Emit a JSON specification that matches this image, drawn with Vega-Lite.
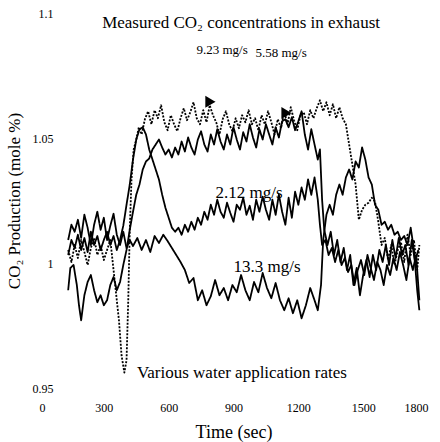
{
"$schema":"https://vega.github.io/schema/vega-lite/v6.json",
"width":389,"height":375,
"autosize":{"type":"none"},
"padding":{"left":39,"top":13,"right":12,"bottom":54},
"background":"white",
"config":{"view":{"stroke":null},"font":"Liberation Serif"},
"datasets":{
"lines":[
{"s":"13.3","t":135,"v":1.0092},{"s":"13.3","t":150,"v":1.0153},{"s":"13.3","t":165,"v":1.0125},{"s":"13.3","t":180,"v":1.0173},{"s":"13.3","t":195,"v":1.0101},{"s":"13.3","t":210,"v":1.0193},{"s":"13.3","t":225,"v":1.0141},{"s":"13.3","t":240,"v":1.0072},{"s":"13.3","t":255,"v":1.0153},{"s":"13.3","t":270,"v":1.0205},{"s":"13.3","t":285,"v":1.0133},{"s":"13.3","t":300,"v":1.0181},{"s":"13.3","t":315,"v":1.0092},{"s":"13.3","t":330,"v":1.0149},{"s":"13.3","t":345,"v":1.0197},{"s":"13.3","t":360,"v":1.0113},{"s":"13.3","t":375,"v":1.0072},{"s":"13.3","t":390,"v":1.0125},{"s":"13.3","t":405,"v":1.006},{"s":"13.3","t":420,"v":1.0092},{"s":"13.3","t":435,"v":1.0068},{"s":"13.3","t":455,"v":1.01},{"s":"13.3","t":475,"v":1.0052},{"s":"13.3","t":495,"v":1.0092},{"s":"13.3","t":515,"v":1.0044},{"s":"13.3","t":535,"v":1.0108},{"s":"13.3","t":555,"v":1.008},{"s":"13.3","t":575,"v":1.0113},{"s":"13.3","t":595,"v":1.0088},{"s":"13.3","t":615,"v":1.006},{"s":"13.3","t":635,"v":1.0032},{"s":"13.3","t":655,"v":1.0004},{"s":"13.3","t":675,"v":0.9972},{"s":"13.3","t":695,"v":0.992},{"s":"13.3","t":715,"v":0.994},{"s":"13.3","t":735,"v":0.9851},{"s":"13.3","t":755,"v":0.9891},{"s":"13.3","t":775,"v":0.9831},{"s":"13.3","t":795,"v":0.9867},{"s":"13.3","t":815,"v":0.9932},{"s":"13.3","t":835,"v":0.9871},{"s":"13.3","t":855,"v":0.99},{"s":"13.3","t":875,"v":0.9851},{"s":"13.3","t":895,"v":0.9912},{"s":"13.3","t":915,"v":0.9883},{"s":"13.3","t":935,"v":0.9952},{"s":"13.3","t":955,"v":0.9891},{"s":"13.3","t":975,"v":0.9851},{"s":"13.3","t":995,"v":0.9924},{"s":"13.3","t":1015,"v":0.9883},{"s":"13.3","t":1035,"v":0.996},{"s":"13.3","t":1055,"v":0.99},{"s":"13.3","t":1075,"v":0.9859},{"s":"13.3","t":1095,"v":0.992},{"s":"13.3","t":1115,"v":0.9851},{"s":"13.3","t":1135,"v":0.9811},{"s":"13.3","t":1155,"v":0.9859},{"s":"13.3","t":1175,"v":0.9799},{"s":"13.3","t":1195,"v":0.9851},{"s":"13.3","t":1215,"v":0.9779},{"s":"13.3","t":1235,"v":0.9831},{"s":"13.3","t":1255,"v":0.99},{"s":"13.3","t":1275,"v":0.9851},{"s":"13.3","t":1290,"v":0.9811},{"s":"13.3","t":1305,"v":0.9912},{"s":"13.3","t":1315,"v":1.0092},{"s":"13.3","t":1330,"v":1.0193},{"s":"13.3","t":1345,"v":1.0233},{"s":"13.3","t":1360,"v":1.0193},{"s":"13.3","t":1375,"v":1.0273},{"s":"13.3","t":1390,"v":1.0314},{"s":"13.3","t":1405,"v":1.0273},{"s":"13.3","t":1420,"v":1.0342},{"s":"13.3","t":1435,"v":1.0374},{"s":"13.3","t":1450,"v":1.0334},{"s":"13.3","t":1465,"v":1.0406},{"s":"13.3","t":1480,"v":1.0382},{"s":"13.3","t":1495,"v":1.0462},{"s":"13.3","t":1510,"v":1.0414},{"s":"13.3","t":1525,"v":1.0342},{"s":"13.3","t":1540,"v":1.0314},{"s":"13.3","t":1555,"v":1.0233},{"s":"13.3","t":1570,"v":1.0213},{"s":"13.3","t":1585,"v":1.0153},{"s":"13.3","t":1600,"v":1.0165},{"s":"13.3","t":1615,"v":1.0133},{"s":"13.3","t":1630,"v":1.0153},{"s":"13.3","t":1645,"v":1.0113},{"s":"13.3","t":1660,"v":1.0125},{"s":"13.3","t":1675,"v":1.0092},{"s":"13.3","t":1690,"v":1.0108},{"s":"13.3","t":1705,"v":1.0072},{"s":"13.3","t":1720,"v":1.0141},{"s":"13.3","t":1735,"v":1.0052},{"s":"13.3","t":1750,"v":0.9891},{"s":"13.3","t":1760,"v":0.9811},
{"s":"2.12","t":135,"v":1.0032},{"s":"2.12","t":150,"v":1.0092},{"s":"2.12","t":165,"v":1.006},{"s":"2.12","t":180,"v":1.0113},{"s":"2.12","t":195,"v":1.0052},{"s":"2.12","t":210,"v":1.01},{"s":"2.12","t":225,"v":1.0044},{"s":"2.12","t":240,"v":1.0125},{"s":"2.12","t":255,"v":1.0072},{"s":"2.12","t":270,"v":1.0108},{"s":"2.12","t":285,"v":1.0052},{"s":"2.12","t":300,"v":1.0092},{"s":"2.12","t":315,"v":1.0125},{"s":"2.12","t":330,"v":1.0072},{"s":"2.12","t":345,"v":1.0108},{"s":"2.12","t":360,"v":1.0052},{"s":"2.12","t":375,"v":1.0092},{"s":"2.12","t":390,"v":1.0149},{"s":"2.12","t":405,"v":1.0233},{"s":"2.12","t":420,"v":1.0314},{"s":"2.12","t":435,"v":1.0414},{"s":"2.12","t":450,"v":1.0494},{"s":"2.12","t":465,"v":1.0535},{"s":"2.12","t":480,"v":1.0543},{"s":"2.12","t":495,"v":1.0514},{"s":"2.12","t":510,"v":1.0454},{"s":"2.12","t":525,"v":1.0414},{"s":"2.12","t":540,"v":1.0374},{"s":"2.12","t":555,"v":1.0334},{"s":"2.12","t":570,"v":1.0273},{"s":"2.12","t":585,"v":1.0221},{"s":"2.12","t":600,"v":1.0181},{"s":"2.12","t":615,"v":1.0141},{"s":"2.12","t":630,"v":1.0125},{"s":"2.12","t":645,"v":1.0141},{"s":"2.12","t":660,"v":1.0113},{"s":"2.12","t":675,"v":1.0153},{"s":"2.12","t":690,"v":1.0125},{"s":"2.12","t":705,"v":1.0165},{"s":"2.12","t":720,"v":1.0133},{"s":"2.12","t":735,"v":1.0181},{"s":"2.12","t":750,"v":1.0153},{"s":"2.12","t":765,"v":1.0205},{"s":"2.12","t":780,"v":1.0173},{"s":"2.12","t":795,"v":1.0233},{"s":"2.12","t":810,"v":1.0193},{"s":"2.12","t":825,"v":1.0253},{"s":"2.12","t":840,"v":1.0205},{"s":"2.12","t":855,"v":1.0181},{"s":"2.12","t":870,"v":1.0241},{"s":"2.12","t":885,"v":1.0201},{"s":"2.12","t":900,"v":1.0165},{"s":"2.12","t":915,"v":1.0233},{"s":"2.12","t":930,"v":1.0213},{"s":"2.12","t":945,"v":1.0261},{"s":"2.12","t":960,"v":1.0193},{"s":"2.12","t":975,"v":1.0229},{"s":"2.12","t":990,"v":1.0173},{"s":"2.12","t":1005,"v":1.0253},{"s":"2.12","t":1020,"v":1.0205},{"s":"2.12","t":1035,"v":1.0265},{"s":"2.12","t":1050,"v":1.0213},{"s":"2.12","t":1065,"v":1.0173},{"s":"2.12","t":1080,"v":1.0253},{"s":"2.12","t":1095,"v":1.0193},{"s":"2.12","t":1110,"v":1.0273},{"s":"2.12","t":1125,"v":1.0205},{"s":"2.12","t":1140,"v":1.0153},{"s":"2.12","t":1155,"v":1.0261},{"s":"2.12","t":1170,"v":1.0181},{"s":"2.12","t":1185,"v":1.0285},{"s":"2.12","t":1200,"v":1.0233},{"s":"2.12","t":1215,"v":1.0302},{"s":"2.12","t":1230,"v":1.0253},{"s":"2.12","t":1245,"v":1.0334},{"s":"2.12","t":1260,"v":1.0273},{"s":"2.12","t":1275,"v":1.0342},{"s":"2.12","t":1290,"v":1.0253},{"s":"2.12","t":1300,"v":1.0153},{"s":"2.12","t":1310,"v":1.0072},{"s":"2.12","t":1325,"v":1.0092},{"s":"2.12","t":1340,"v":1.0032},{"s":"2.12","t":1355,"v":1.006},{"s":"2.12","t":1370,"v":1.0004},{"s":"2.12","t":1385,"v":1.0052},{"s":"2.12","t":1400,"v":0.9992},{"s":"2.12","t":1415,"v":1.002},{"s":"2.12","t":1430,"v":0.9964},{"s":"2.12","t":1445,"v":0.9992},{"s":"2.12","t":1460,"v":0.9912},{"s":"2.12","t":1475,"v":0.9972},{"s":"2.12","t":1490,"v":1.0012},{"s":"2.12","t":1505,"v":0.9952},{"s":"2.12","t":1520,"v":1.0032},{"s":"2.12","t":1535,"v":0.998},{"s":"2.12","t":1550,"v":0.9932},{"s":"2.12","t":1565,"v":1.0004},{"s":"2.12","t":1580,"v":0.9972},{"s":"2.12","t":1595,"v":0.9912},{"s":"2.12","t":1610,"v":0.9992},{"s":"2.12","t":1625,"v":0.9952},{"s":"2.12","t":1640,"v":1.002},{"s":"2.12","t":1655,"v":0.9972},{"s":"2.12","t":1670,"v":1.0044},{"s":"2.12","t":1685,"v":0.9992},{"s":"2.12","t":1700,"v":0.9932},{"s":"2.12","t":1715,"v":1.002},{"s":"2.12","t":1730,"v":0.9972},{"s":"2.12","t":1745,"v":1.0032},{"s":"2.12","t":1760,"v":0.9851},
{"s":"9.23","t":135,"v":1.0052},{"s":"9.23","t":150,"v":1.0004},{"s":"9.23","t":165,"v":1.0072},{"s":"9.23","t":180,"v":1.002},{"s":"9.23","t":195,"v":1.0092},{"s":"9.23","t":210,"v":1.0044},{"s":"9.23","t":225,"v":0.9992},{"s":"9.23","t":240,"v":1.006},{"s":"9.23","t":255,"v":1.01},{"s":"9.23","t":270,"v":1.0032},{"s":"9.23","t":285,"v":1.0072},{"s":"9.23","t":300,"v":1.0012},{"s":"9.23","t":315,"v":1.0052},{"s":"9.23","t":330,"v":1.0092},{"s":"9.23","t":345,"v":0.9972},{"s":"9.23","t":360,"v":0.9851},{"s":"9.23","t":370,"v":0.9771},{"s":"9.23","t":382,"v":0.963},{"s":"9.23","t":395,"v":0.9562},{"s":"9.23","t":405,"v":0.961},{"s":"9.23","t":413,"v":0.9851},{"s":"9.23","t":420,"v":1.0133},{"s":"9.23","t":428,"v":1.0334},{"s":"9.23","t":438,"v":1.0454},{"s":"9.23","t":450,"v":1.0494},{"s":"9.23","t":462,"v":1.0543},{"s":"9.23","t":475,"v":1.0514},{"s":"9.23","t":490,"v":1.0575},{"s":"9.23","t":505,"v":1.0607},{"s":"9.23","t":520,"v":1.0555},{"s":"9.23","t":535,"v":1.0611},{"s":"9.23","t":550,"v":1.0579},{"s":"9.23","t":565,"v":1.0631},{"s":"9.23","t":580,"v":1.0563},{"s":"9.23","t":595,"v":1.0531},{"s":"9.23","t":610,"v":1.0591},{"s":"9.23","t":625,"v":1.0555},{"s":"9.23","t":640,"v":1.0527},{"s":"9.23","t":655,"v":1.0579},{"s":"9.23","t":670,"v":1.0619},{"s":"9.23","t":685,"v":1.0571},{"s":"9.23","t":700,"v":1.0603},{"s":"9.23","t":715,"v":1.0643},{"s":"9.23","t":730,"v":1.0579},{"s":"9.23","t":745,"v":1.0555},{"s":"9.23","t":760,"v":1.0611},{"s":"9.23","t":775,"v":1.0563},{"s":"9.23","t":790,"v":1.0631},{"s":"9.23","t":805,"v":1.0591},{"s":"9.23","t":820,"v":1.0563},{"s":"9.23","t":835,"v":1.0514},{"s":"9.23","t":850,"v":1.0575},{"s":"9.23","t":865,"v":1.0607},{"s":"9.23","t":880,"v":1.0555},{"s":"9.23","t":895,"v":1.0527},{"s":"9.23","t":910,"v":1.0579},{"s":"9.23","t":925,"v":1.0539},{"s":"9.23","t":940,"v":1.0591},{"s":"9.23","t":955,"v":1.0563},{"s":"9.23","t":970,"v":1.0611},{"s":"9.23","t":985,"v":1.0555},{"s":"9.23","t":1000,"v":1.0579},{"s":"9.23","t":1015,"v":1.0531},{"s":"9.23","t":1030,"v":1.0591},{"s":"9.23","t":1045,"v":1.0555},{"s":"9.23","t":1060,"v":1.0607},{"s":"9.23","t":1075,"v":1.0563},{"s":"9.23","t":1090,"v":1.0514},{"s":"9.23","t":1105,"v":1.0575},{"s":"9.23","t":1120,"v":1.0539},{"s":"9.23","t":1135,"v":1.0607},{"s":"9.23","t":1150,"v":1.0555},{"s":"9.23","t":1165,"v":1.0623},{"s":"9.23","t":1180,"v":1.0571},{"s":"9.23","t":1195,"v":1.0531},{"s":"9.23","t":1210,"v":1.0591},{"s":"9.23","t":1225,"v":1.0603},{"s":"9.23","t":1240,"v":1.0555},{"s":"9.23","t":1255,"v":1.0611},{"s":"9.23","t":1270,"v":1.0579},{"s":"9.23","t":1285,"v":1.0619},{"s":"9.23","t":1300,"v":1.0651},{"s":"9.23","t":1315,"v":1.0607},{"s":"9.23","t":1330,"v":1.0643},{"s":"9.23","t":1345,"v":1.0591},{"s":"9.23","t":1360,"v":1.0635},{"s":"9.23","t":1375,"v":1.0579},{"s":"9.23","t":1390,"v":1.0623},{"s":"9.23","t":1405,"v":1.0579},{"s":"9.23","t":1420,"v":1.0555},{"s":"9.23","t":1435,"v":1.0474},{"s":"9.23","t":1450,"v":1.0394},{"s":"9.23","t":1465,"v":1.0314},{"s":"9.23","t":1480,"v":1.0173},{"s":"9.23","t":1495,"v":1.0213},{"s":"9.23","t":1510,"v":1.0233},{"s":"9.23","t":1525,"v":1.0241},{"s":"9.23","t":1540,"v":1.0261},{"s":"9.23","t":1555,"v":1.0245},{"s":"9.23","t":1570,"v":1.0165},{"s":"9.23","t":1585,"v":1.0072},{"s":"9.23","t":1600,"v":1.01},{"s":"9.23","t":1615,"v":1.0012},{"s":"9.23","t":1630,"v":1.0072},{"s":"9.23","t":1645,"v":0.9992},{"s":"9.23","t":1660,"v":1.0052},{"s":"9.23","t":1675,"v":1.0084},{"s":"9.23","t":1690,"v":1.0004},{"s":"9.23","t":1705,"v":1.0113},{"s":"9.23","t":1720,"v":1.0032},{"s":"9.23","t":1735,"v":1.0092},{"s":"9.23","t":1750,"v":0.9972},{"s":"9.23","t":1760,"v":1.0072},
{"s":"5.58","t":135,"v":0.9891},{"s":"5.58","t":145,"v":0.998},{"s":"5.58","t":160,"v":0.9992},{"s":"5.58","t":175,"v":0.9912},{"s":"5.58","t":185,"v":0.9831},{"s":"5.58","t":195,"v":0.9771},{"s":"5.58","t":210,"v":0.9871},{"s":"5.58","t":225,"v":0.9924},{"s":"5.58","t":240,"v":0.9952},{"s":"5.58","t":255,"v":0.9891},{"s":"5.58","t":270,"v":0.9843},{"s":"5.58","t":285,"v":0.9871},{"s":"5.58","t":300,"v":0.9831},{"s":"5.58","t":315,"v":0.9851},{"s":"5.58","t":330,"v":0.9912},{"s":"5.58","t":345,"v":0.9944},{"s":"5.58","t":360,"v":0.9891},{"s":"5.58","t":375,"v":0.9924},{"s":"5.58","t":390,"v":0.9992},{"s":"5.58","t":405,"v":1.0052},{"s":"5.58","t":420,"v":1.0133},{"s":"5.58","t":435,"v":1.0205},{"s":"5.58","t":450,"v":1.0273},{"s":"5.58","t":465,"v":1.0314},{"s":"5.58","t":480,"v":1.0374},{"s":"5.58","t":495,"v":1.0406},{"s":"5.58","t":510,"v":1.0418},{"s":"5.58","t":525,"v":1.0454},{"s":"5.58","t":540,"v":1.0474},{"s":"5.58","t":555,"v":1.0494},{"s":"5.58","t":570,"v":1.0462},{"s":"5.58","t":585,"v":1.0434},{"s":"5.58","t":600,"v":1.0454},{"s":"5.58","t":615,"v":1.0422},{"s":"5.58","t":630,"v":1.0462},{"s":"5.58","t":645,"v":1.0434},{"s":"5.58","t":660,"v":1.0486},{"s":"5.58","t":675,"v":1.0446},{"s":"5.58","t":690,"v":1.0502},{"s":"5.58","t":705,"v":1.0462},{"s":"5.58","t":720,"v":1.0434},{"s":"5.58","t":735,"v":1.0494},{"s":"5.58","t":750,"v":1.0527},{"s":"5.58","t":765,"v":1.0474},{"s":"5.58","t":780,"v":1.0446},{"s":"5.58","t":795,"v":1.0514},{"s":"5.58","t":810,"v":1.0474},{"s":"5.58","t":825,"v":1.0535},{"s":"5.58","t":840,"v":1.0486},{"s":"5.58","t":855,"v":1.0454},{"s":"5.58","t":870,"v":1.0514},{"s":"5.58","t":885,"v":1.0474},{"s":"5.58","t":900,"v":1.0543},{"s":"5.58","t":915,"v":1.0494},{"s":"5.58","t":930,"v":1.0454},{"s":"5.58","t":945,"v":1.0523},{"s":"5.58","t":960,"v":1.0486},{"s":"5.58","t":975,"v":1.0555},{"s":"5.58","t":990,"v":1.0502},{"s":"5.58","t":1005,"v":1.0462},{"s":"5.58","t":1020,"v":1.0535},{"s":"5.58","t":1035,"v":1.0494},{"s":"5.58","t":1050,"v":1.0555},{"s":"5.58","t":1065,"v":1.0514},{"s":"5.58","t":1080,"v":1.0474},{"s":"5.58","t":1095,"v":1.0543},{"s":"5.58","t":1110,"v":1.0502},{"s":"5.58","t":1125,"v":1.0567},{"s":"5.58","t":1140,"v":1.0575},{"s":"5.58","t":1155,"v":1.0543},{"s":"5.58","t":1170,"v":1.0583},{"s":"5.58","t":1185,"v":1.0531},{"s":"5.58","t":1200,"v":1.0567},{"s":"5.58","t":1215,"v":1.0607},{"s":"5.58","t":1230,"v":1.0514},{"s":"5.58","t":1245,"v":1.0454},{"s":"5.58","t":1260,"v":1.0535},{"s":"5.58","t":1275,"v":1.0474},{"s":"5.58","t":1290,"v":1.0414},{"s":"5.58","t":1300,"v":1.0454},{"s":"5.58","t":1310,"v":1.0253},{"s":"5.58","t":1320,"v":1.0133},{"s":"5.58","t":1335,"v":1.0072},{"s":"5.58","t":1350,"v":1.0125},{"s":"5.58","t":1365,"v":1.0032},{"s":"5.58","t":1380,"v":1.0092},{"s":"5.58","t":1395,"v":1.0004},{"s":"5.58","t":1410,"v":1.006},{"s":"5.58","t":1425,"v":0.9972},{"s":"5.58","t":1440,"v":1.0032},{"s":"5.58","t":1455,"v":0.9912},{"s":"5.58","t":1470,"v":0.998},{"s":"5.58","t":1485,"v":0.9871},{"s":"5.58","t":1500,"v":0.9952},{"s":"5.58","t":1515,"v":1.0012},{"s":"5.58","t":1530,"v":0.9944},{"s":"5.58","t":1545,"v":1.0032},{"s":"5.58","t":1560,"v":0.9972},{"s":"5.58","t":1575,"v":1.0052},{"s":"5.58","t":1590,"v":1.0004},{"s":"5.58","t":1605,"v":1.0072},{"s":"5.58","t":1620,"v":0.9992},{"s":"5.58","t":1635,"v":1.0092},{"s":"5.58","t":1650,"v":1.002},{"s":"5.58","t":1665,"v":1.01},{"s":"5.58","t":1680,"v":1.0032},{"s":"5.58","t":1695,"v":1.0072},{"s":"5.58","t":1710,"v":0.9992},{"s":"5.58","t":1725,"v":1.0092},{"s":"5.58","t":1740,"v":1.0004},{"s":"5.58","t":1755,"v":1.0052}
],
"bigtext":[
{"t":935,"v":1.0962,"label":"Measured CO₂ concentrations in exhaust"},
{"t":972,"v":1.0281,"label":"2.12 mg/s"},
{"t":1055,"v":0.9985,"label":"13.3 mg/s"},
{"t":939,"v":0.9561,"label":"Various water application rates"}
],
"smalltext":[
{"t":847,"v":1.0853,"label":"9.23 mg/s"},
{"t":1120,"v":1.0841,"label":"5.58 mg/s"}
],
"arrows":[
{"t":791,"v":1.0645},
{"t":1143,"v":1.06}
]
},
"layer":[
{"data":{"name":"lines"},
 "mark":{"type":"line","color":"black","strokeJoin":"round"},
 "encoding":{
  "x":{"field":"t","type":"quantitative","scale":{"domain":[0,1800],"nice":false,"zero":false},
   "axis":{"values":[0,300,600,900,1200,1500,1800],"format":"d","domain":false,"ticks":false,"grid":false,"labelPadding":14,"labelFontSize":12,"labelFont":"Liberation Serif","labelColor":"black","title":"Time (sec)","titleFontSize":18,"titleFont":"Liberation Serif","titleFontWeight":"normal","titleColor":"black","titleY":44,"titleBaseline":"middle"}},
  "y":{"field":"v","type":"quantitative","scale":{"domain":[0.95,1.1],"nice":false,"zero":false},
   "axis":{"values":[0.95,1,1.05,1.1],"labelExpr":"'' + datum.value","domain":false,"ticks":false,"grid":false,"labelPadding":-14,"labelFontSize":12,"labelFont":"Liberation Serif","labelColor":"black","title":"CO₂ Production (mole %)","titleFontSize":17,"titleFont":"Liberation Serif","titleFontWeight":"normal","titleColor":"black","titleX":-25,"titleBaseline":"middle"}},
  "detail":{"field":"s","type":"nominal"},
  "strokeWidth":{"field":"s","type":"nominal","scale":{"domain":["13.3","2.12","9.23","5.58"],"range":[1.8,1.8,1,1]},"legend":null},
  "strokeDash":{"field":"s","type":"nominal","scale":{"domain":["13.3","2.12","9.23","5.58"],"range":[[1,0],[1,0],[2,1.5],[1,0]]},"legend":null}
 }},
{"data":{"name":"bigtext"},
 "mark":{"type":"text","font":"Liberation Serif","fontSize":17,"color":"black","align":"center","baseline":"middle"},
 "encoding":{"x":{"field":"t","type":"quantitative"},"y":{"field":"v","type":"quantitative"},"text":{"field":"label"}}},
{"data":{"name":"smalltext"},
 "mark":{"type":"text","font":"Liberation Serif","fontSize":13,"color":"black","align":"center","baseline":"middle"},
 "encoding":{"x":{"field":"t","type":"quantitative"},"y":{"field":"v","type":"quantitative"},"text":{"field":"label"}}},
{"data":{"name":"arrows"},
 "mark":{"type":"point","shape":"triangle-right","filled":true,"fill":"black","stroke":"black","size":70,"opacity":1},
 "encoding":{"x":{"field":"t","type":"quantitative"},"y":{"field":"v","type":"quantitative"}}}
]
}
